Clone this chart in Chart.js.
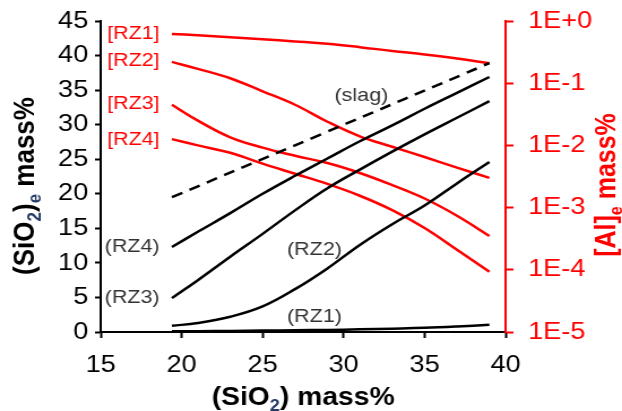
<!DOCTYPE html>
<html>
<head>
<meta charset="utf-8">
<script src="https://cdn.jsdelivr.net/npm/chart.js@4.4.1/dist/chart.umd.min.js"></script>
<style>
  html, body { margin: 0; padding: 0; background: #fff; overflow: hidden; }
  #wrap { width: 550px; height: 411px; transform: scaleX(1.131); transform-origin: 0 0; }
</style>
</head>
<body>
<div id="wrap"><canvas id="chart" width="550" height="411"></canvas></div>
<script>
// (SiO2) mass% in slag, x values of the curves
const xs = [19.4, 21, 23, 25, 27, 29, 31, 33, 35, 37, 39];

// (SiO2)e mass%, left axis
const rz1Si = [0.1, 0.12, 0.15, 0.2, 0.25, 0.3, 0.38, 0.48, 0.6, 0.8, 1.05];
const rz2Si = [0.9, 1.3, 2.2, 3.7, 6.2, 9.2, 12.6, 15.6, 18.3, 21.5, 24.6];
const rz3Si = [4.9, 7.5, 10.9, 14.2, 17.6, 20.8, 23.5, 26.1, 28.6, 31.0, 33.4];
const rz4Si = [12.3, 14.5, 17.2, 20.0, 22.6, 25.1, 27.6, 29.9, 32.3, 34.6, 36.9];
const slagX = [19.4, 28.5, 39];
const slagSi = [19.5, 28.5, 38.9];

// [Al]e mass%, right axis (log)
const rz1Al = [0.62, 0.59, 0.55, 0.51, 0.47, 0.43, 0.38, 0.33, 0.29, 0.25, 0.21];
const rz2Al = [0.22, 0.17, 0.12, 0.074, 0.045, 0.024, 0.014, 0.0095, 0.0065, 0.0044, 0.003];
const rz3Al = [0.045, 0.025, 0.0135, 0.0092, 0.0068, 0.0052, 0.0036, 0.0023, 0.0014, 0.00074, 0.00035];
const rz4Al = [0.0126, 0.01, 0.0076, 0.0051, 0.0035, 0.0024, 0.00155, 0.00091, 0.00047, 0.00021, 0.000093];

const xTicks = [15, 20, 25, 30, 35, 40];
const alTicks = [1e-5, 1e-4, 1e-3, 1e-2, 1e-1, 1];

const RED = "#ff0000";
const FONT = '"Liberation Sans", Arial, sans-serif';

const pts = (xv, yv) => xv.map((x, i) => ({ x: x, y: yv[i] }));

function line(data, color, axis, dash) {
    return {
        data: data,
        borderColor: color,
        borderWidth: 2.5,
        borderDash: dash || [],
        pointRadius: 0,
        tension: 0.4,
        yAxisID: axis,
    };
}

// curve labels, positioned in data units of x and left y
const notes = [
    { t: "[RZ1]", x: 18.64, y: 43.1, c: RED, a: "right" },
    { t: "[RZ2]", x: 18.64, y: 39.2, c: RED, a: "right" },
    { t: "[RZ3]", x: 18.64, y: 33.0, c: RED, a: "right" },
    { t: "[RZ4]", x: 18.64, y: 27.8, c: RED, a: "right" },
    { t: "(RZ4)", x: 18.64, y: 12.3, c: "#333", a: "right" },
    { t: "(RZ3)", x: 18.64, y: 4.9, c: "#333", a: "right" },
    { t: "(RZ2)", x: 28.2, y: 11.9, c: "#333", a: "center" },
    { t: "(RZ1)", x: 28.2, y: 2.2, c: "#333", a: "center" },
    { t: "(slag)", x: 31.1, y: 34.2, c: "#333", a: "center" },
];

function drawRich(ctx, parts, cx, cy, angle, size, color, subColor) {
    const big = "bold " + size + "px " + FONT;
    const small = "bold " + Math.round(size * 0.65) + "px " + FONT;
    let total = 0;
    parts.forEach((p) => {
        ctx.font = p.sub ? small : big;
        p.w = ctx.measureText(p.t).width;
        total += p.w;
    });
    ctx.save();
    ctx.translate(cx, cy);
    ctx.rotate(angle);
    ctx.textBaseline = "alphabetic";
    ctx.textAlign = "left";
    let x = -total / 2;
    const base = size * 0.36;
    parts.forEach((p) => {
        ctx.font = p.sub ? small : big;
        ctx.fillStyle = p.sub ? subColor : color;
        ctx.fillText(p.t, x, p.sub ? base + size * 0.22 : base);
        x += p.w;
    });
    ctx.restore();
}

const notesPlugin = {
    id: "notes",
    afterDraw(chart) {
        const ctx = chart.ctx;
        const sx = chart.scales.x;
        const sy = chart.scales.y;
        ctx.save();
        ctx.font = "19px " + FONT;
        ctx.textBaseline = "middle";
        notes.forEach((n) => {
            ctx.fillStyle = n.c;
            ctx.textAlign = n.a;
            ctx.fillText(n.t, sx.getPixelForValue(n.x), sy.getPixelForValue(n.y));
        });
        ctx.restore();

        drawRich(ctx, [{ t: "(SiO" }, { t: "2", sub: true }, { t: ") mass%" }],
            (chart.chartArea.left + chart.chartArea.right) / 2, 396, 0, 25, "#000", "#233a66");
        drawRich(ctx, [{ t: "(SiO" }, { t: "2", sub: true }, { t: ")" }, { t: "e", sub: true }, { t: " mass%" }],
            21, 186, -Math.PI / 2, 26, "#000", "#233a66");
        drawRich(ctx, [{ t: "[Al]" }, { t: "e", sub: true }, { t: " mass%" }],
            535, 185, -Math.PI / 2, 25, RED, RED);
    },
};

new Chart(document.getElementById("chart"), {
    type: "line",
    data: {
        datasets: [
            line(pts(slagX, slagSi), "#000", "y", [10, 7]),
            line(pts(xs, rz4Si), "#000", "y"),
            line(pts(xs, rz3Si), "#000", "y"),
            line(pts(xs, rz2Si), "#000", "y"),
            line(pts(xs, rz1Si), "#000", "y"),
            line(pts(xs, rz1Al), RED, "y2"),
            line(pts(xs, rz2Al), RED, "y2"),
            line(pts(xs, rz3Al), RED, "y2"),
            line(pts(xs, rz4Al), RED, "y2"),
        ],
    },
    options: {
        responsive: false,
        animation: false,
        events: [],
        layout: { padding: { top: 21, left: 0, right: 0, bottom: 0 } },
        plugins: {
            legend: { display: false },
            tooltip: { enabled: false },
        },
        scales: {
            x: {
                type: "linear",
                min: 15,
                max: 40,
                afterBuildTicks: (s) => { s.ticks = xTicks.map((v) => ({ value: v })); },
                afterFit: (s) => { s.height = 79; s.paddingLeft = 0; s.paddingRight = 0; },
                ticks: { font: { family: FONT, size: 24 }, color: "#000", padding: 13 },
                grid: { drawOnChartArea: false, tickLength: 6, tickColor: "#000", tickWidth: 2 },
                border: { color: "#000", width: 2 },
            },
            y: {
                position: "left",
                min: 0,
                max: 45,
                ticks: { stepSize: 5, font: { family: FONT, size: 24 }, color: "#000", padding: 6 },
                afterFit: (s) => { s.width = 89; s.paddingTop = 0; s.paddingBottom = 0; },
                grid: { drawOnChartArea: false, tickLength: 5, tickColor: "#000", tickWidth: 2 },
                border: { color: "#000", width: 2 },
            },
            y2: {
                type: "logarithmic",
                position: "right",
                min: 1e-5,
                max: 1,
                afterBuildTicks: (s) => { s.ticks = alTicks.map((v) => ({ value: v })); },
                afterFit: (s) => { s.width = 103; s.paddingTop = 0; s.paddingBottom = 0; },
                ticks: {
                    font: { family: FONT, size: 24 },
                    color: RED,
                    padding: 13,
                    callback: (v) => {
                        const e = Math.round(Math.log10(v));
                        return "1E" + (e >= 0 ? "+" : "") + e;
                    },
                },
                grid: { drawOnChartArea: false, tickLength: 7, tickColor: RED, tickWidth: 2 },
                border: { color: RED, width: 2 },
            },
        },
    },
    plugins: [notesPlugin],
});
</script>
</body>
</html>
